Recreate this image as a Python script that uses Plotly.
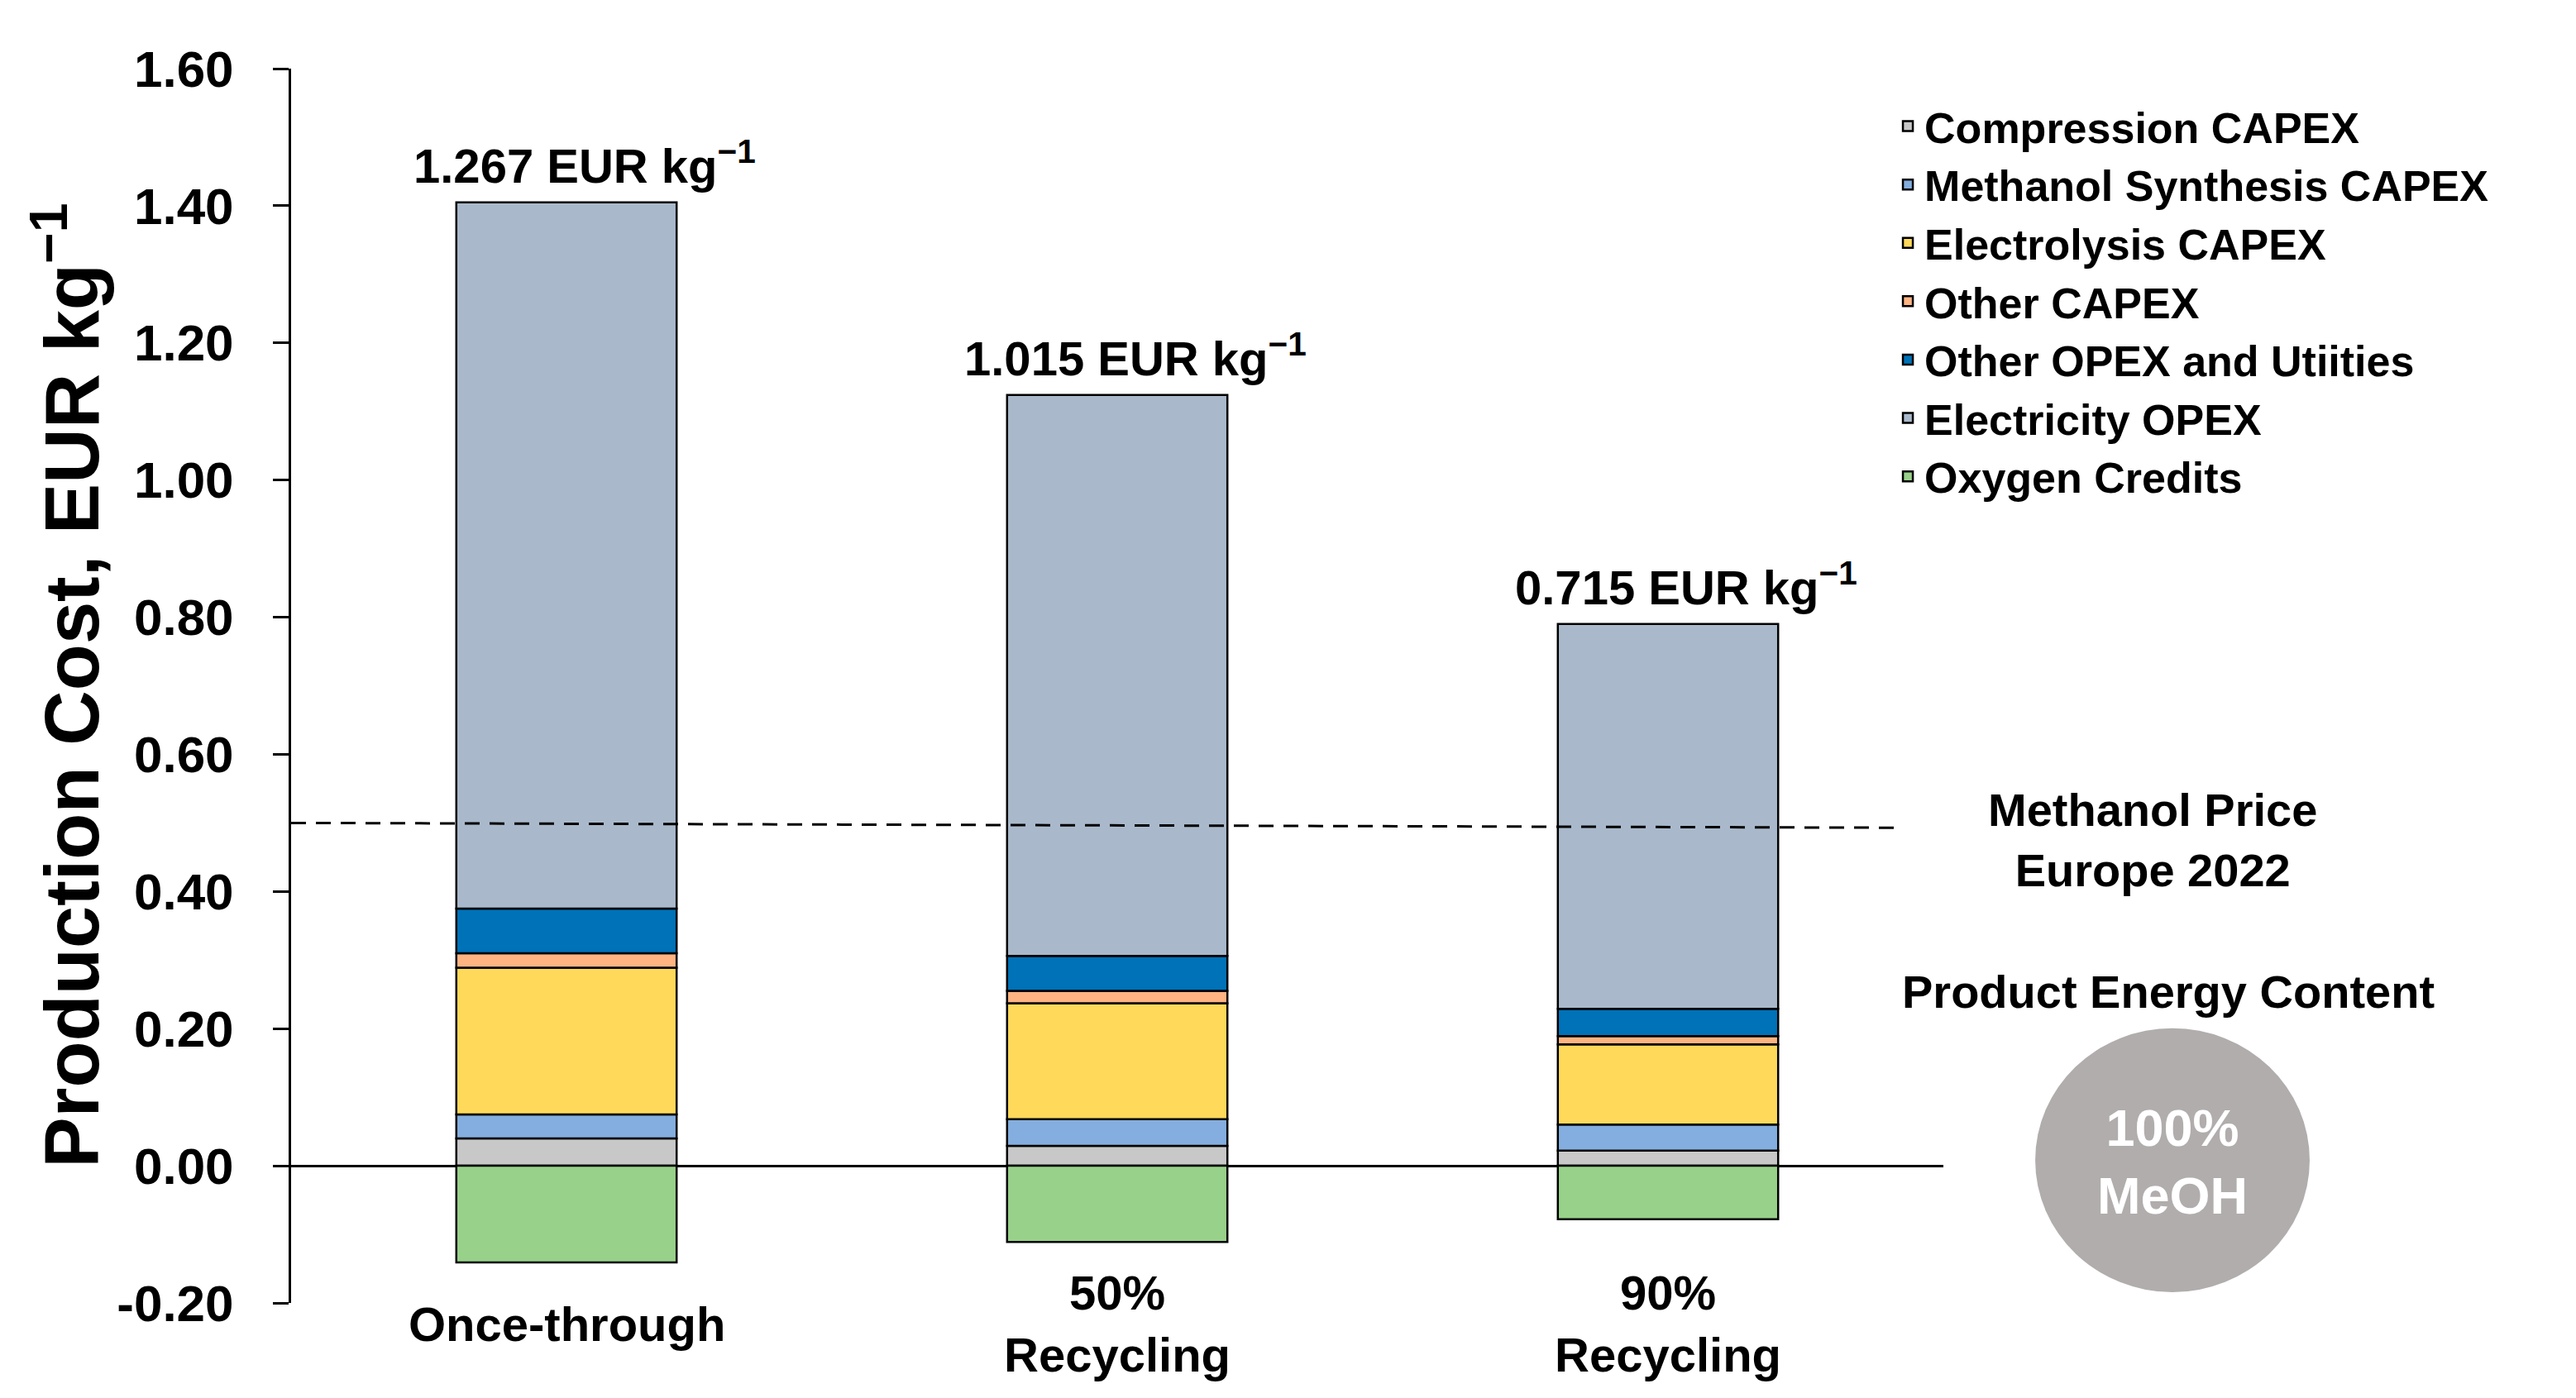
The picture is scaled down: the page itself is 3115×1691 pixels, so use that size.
import plotly.graph_objects as go

# ---------------- data ----------------
categories = ["Once-through", "50% Recycling", "90% Recycling"]
category_labels = ["Once-through", "50%<br>Recycling", "90%<br>Recycling"]

compression_capex = [0.040, 0.029, 0.022]
methanol_synthesis_capex = [0.035, 0.039, 0.038]
electrolysis_capex = [0.214, 0.169, 0.117]
other_capex = [0.021, 0.018, 0.012]
other_opex_utilities = [0.065, 0.051, 0.040]
electricity_opex = [1.030, 0.818, 0.561]
oxygen_credits = [-0.141, -0.111, -0.078]

total_cost_labels = ["1.267", "1.015", "0.715"]
methanol_price_line = [0.500, 0.493]

y_ticks = [-0.20, 0.00, 0.20, 0.40, 0.60, 0.80, 1.00, 1.20, 1.40, 1.60]
y_tick_text = [f"{v:.2f}" for v in y_ticks]

series = [
    ("Compression CAPEX", compression_capex, "#C8C8C8"),
    ("Methanol Synthesis CAPEX", methanol_synthesis_capex, "#84AEDF"),
    ("Electrolysis CAPEX", electrolysis_capex, "#FFD95A"),
    ("Other CAPEX", other_capex, "#FFB482"),
    ("Other OPEX and Utiities", other_opex_utilities, "#0072B8"),
    ("Electricity OPEX", electricity_opex, "#A9B9CB"),
    ("Oxygen Credits", oxygen_credits, "#98D18A"),
]

FONT = "Liberation Sans, Arial, sans-serif"

fig = go.Figure()
for name, vals, color in series:
    fig.add_trace(go.Bar(
        x=categories, y=vals, name=name,
        marker=dict(color=color, line=dict(color="black", width=2.5)),
    ))

# positive stack tops for the total labels
pos_tops = [sum(v[i] for _, v, _ in series if v[i] > 0) for i in range(len(categories))]

annotations = []
for cat, top, lab in zip(categories, pos_tops, total_cost_labels):
    annotations.append(dict(
        x=cat, y=top, xref="x", yref="y", text=f"{lab} EUR kg<sup>−1</sup>",
        showarrow=False, xanchor="center", yanchor="bottom", yshift=10, xshift=22,
        font=dict(family=FONT, size=58, color="black", weight="bold"),
    ))

for cat, lab in zip(categories, category_labels):
    annotations.append(dict(
        x=cat, y=-0.017, xref="x", yref="paper", text=lab, showarrow=False,
        xanchor="center", yanchor="middle",
        font=dict(family=FONT, size=58, color="black", weight="bold"),
    ))

annotations += [
    dict(x=-0.136, y=0.5, xref="paper", yref="paper",
         text="Production Cost, EUR kg<sup>−1</sup>", textangle=-90, showarrow=False,
         xanchor="center", yanchor="middle",
         font=dict(family=FONT, size=92, color="black", weight="bold")),
    dict(x=1.1266, y=0.3753, xref="paper", yref="paper",
         text="Methanol Price<br>Europe 2022", showarrow=False,
         xanchor="center", yanchor="middle",
         font=dict(family=FONT, size=56, color="black", weight="bold")),
    dict(x=1.136, y=0.252, xref="paper", yref="paper",
         text="Product Energy Content", showarrow=False,
         xanchor="center", yanchor="middle",
         font=dict(family=FONT, size=56, color="black", weight="bold")),
    dict(x=1.1386, y=0.1146, xref="paper", yref="paper",
         text="100%<br>MeOH", showarrow=False,
         xanchor="center", yanchor="middle",
         font=dict(family=FONT, size=63, color="white", weight="bold")),
]

shapes = [
    dict(type="line", xref="paper", yref="y", x0=0, x1=0.970,
         y0=methanol_price_line[0], y1=methanol_price_line[1],
         line=dict(color="black", width=3, dash="18px,12px")),
    dict(type="circle", xref="paper", yref="paper",
         x0=1.0556, x1=1.2217, y0=0.0087, y1=0.2225,
         fillcolor="#B0ADAC", line=dict(width=0)),
]

fig.update_layout(
    width=3115, height=1691,
    margin=dict(l=352, r=765, t=83, b=115, autoexpand=False),
    barmode="relative", bargap=0.6,
    plot_bgcolor="white", paper_bgcolor="white",
    font=dict(family=FONT, color="black"),
    showlegend=True,
    legend=dict(x=0.9685, y=0.9804, xanchor="left", yanchor="top",
                traceorder="normal", bgcolor="rgba(0,0,0,0)",
                font=dict(family=FONT, size=52, color="black", weight="bold")),
    annotations=annotations,
    shapes=shapes,
)

fig.update_xaxes(showticklabels=False, showline=False, showgrid=False,
                 zeroline=False, ticks="")
fig.update_yaxes(range=[-0.2, 1.6], tickvals=y_ticks, ticktext=y_tick_text,
                 showline=True, linecolor="black", linewidth=3,
                 ticks="outside", ticklen=19, tickwidth=3, tickcolor="black",
                 showgrid=False, zeroline=True, zerolinecolor="black", zerolinewidth=3,
                 ticklabelstandoff=35,
                 tickfont=dict(family=FONT, size=62, color="black", weight="bold"))

fig.write_html("out.html", config={"displayModeBar": False},
               post_script="document.body.style.margin='0px';document.body.style.overflow='hidden';")
